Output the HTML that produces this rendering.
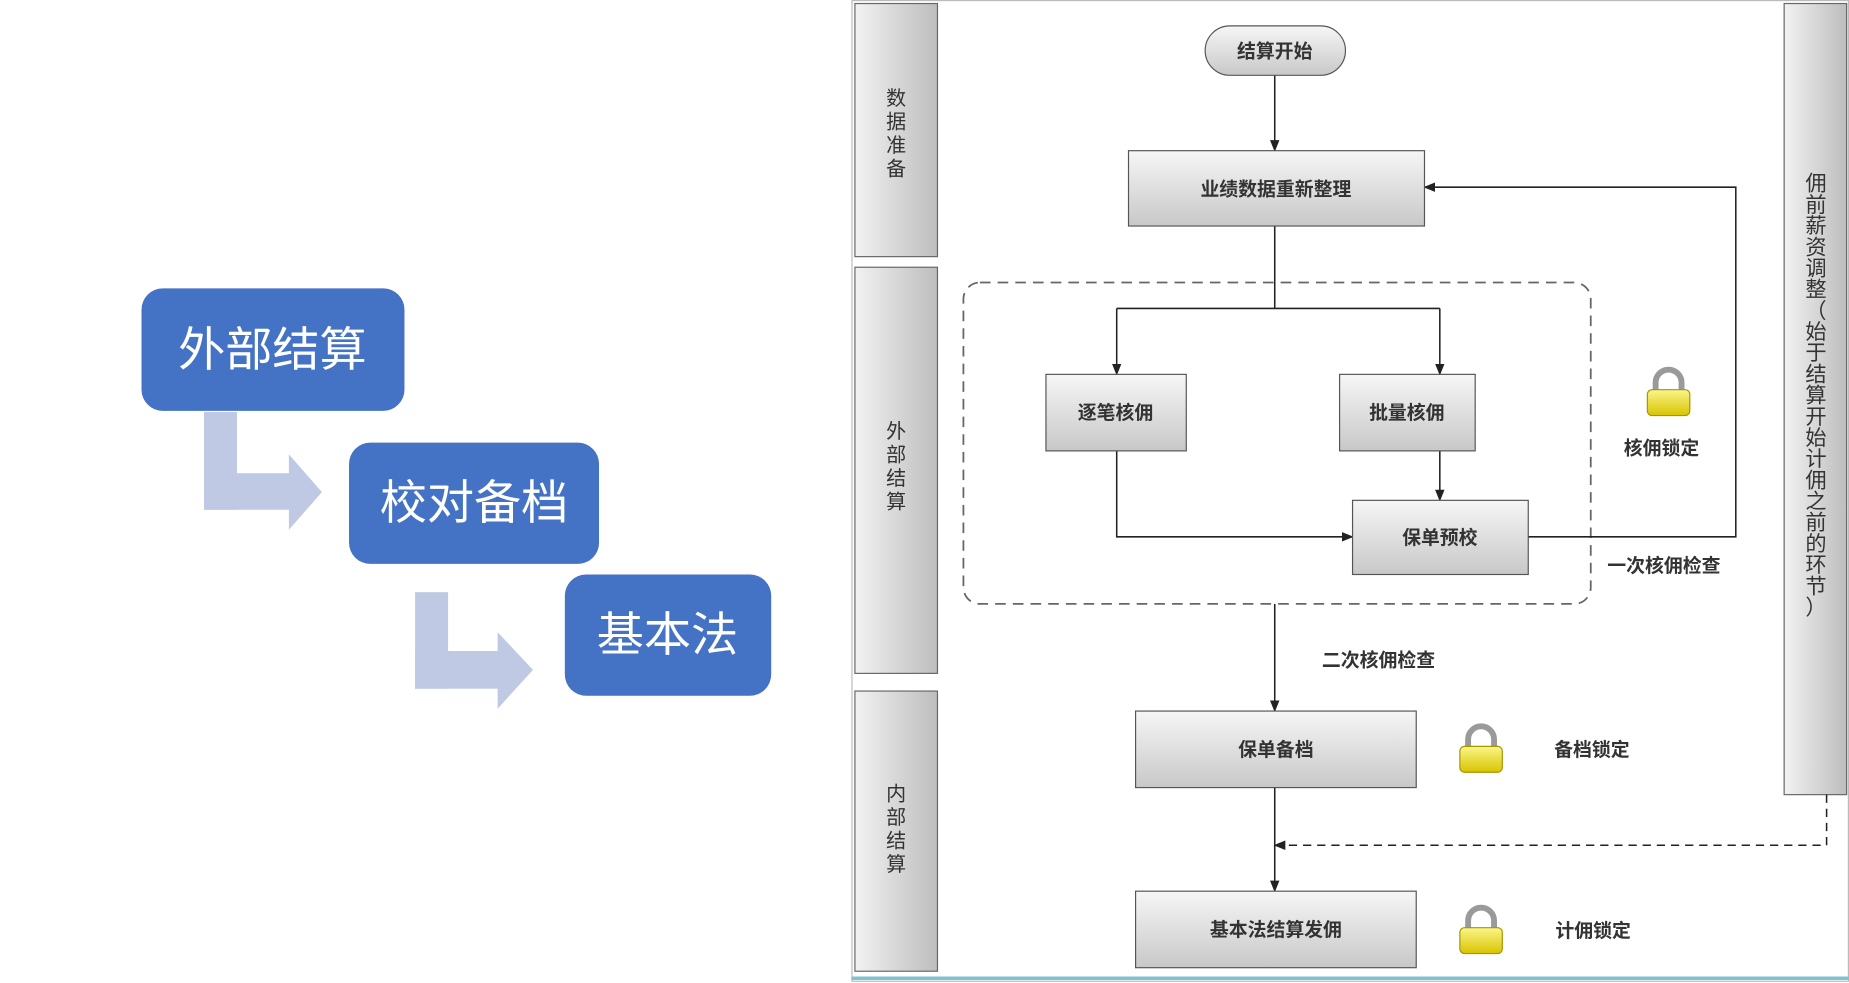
<!DOCTYPE html>
<html><head><meta charset="utf-8"><style>
html,body{margin:0;padding:0;background:#fff;overflow:hidden}
svg{display:block}
text{font-family:"Liberation Sans","Noto Sans CJK SC",sans-serif}
</style></head><body>
<svg width="1849" height="983" viewBox="0 0 1568 835" preserveAspectRatio="none" xmlns="http://www.w3.org/2000/svg">
<defs>
<linearGradient id="bx" x1="0" y1="0" x2="0" y2="1"><stop offset="0" stop-color="#f6f6f6"/><stop offset="1" stop-color="#c8c8c8"/></linearGradient>
<linearGradient id="ln" x1="0" y1="0" x2="1" y2="0"><stop offset="0" stop-color="#f2f2f2"/><stop offset="1" stop-color="#bdbdbd"/></linearGradient>
<linearGradient id="lk" x1="0" y1="0" x2="0" y2="1"><stop offset="0" stop-color="#fbf58a"/><stop offset="1" stop-color="#d8c400"/></linearGradient>
<marker id="a" markerWidth="10" markerHeight="10" refX="9" refY="5" orient="auto" markerUnits="userSpaceOnUse"><path d="M0,1 L10,5 L0,9 z" fill="#222"/></marker>
<g id="lock"><path d="M7,19 V12 A11,11 0 0 1 29,12 V19" fill="none" stroke="#9a9a9a" stroke-width="5"/><rect x="0" y="18" width="36" height="22" rx="4" fill="url(#lk)" stroke="#a69600" stroke-width="1"/></g>
</defs>
<rect x="173" y="350" width="28" height="83" fill="#BFC9E3"/>
<rect x="173" y="402" width="74" height="31" fill="#BFC9E3"/>
<path d="M245,386 L273,418 L245,450 z" fill="#BFC9E3"/>
<rect x="352" y="503" width="28" height="82" fill="#BFC9E3"/>
<rect x="352" y="553" width="72" height="32" fill="#BFC9E3"/>
<path d="M422,537 L452,569 L422,602 z" fill="#BFC9E3"/>
<rect x="120" y="245" width="223" height="104" rx="18" fill="#4472C4"/>
<rect x="296" y="376" width="212" height="103" rx="18" fill="#4472C4"/>
<rect x="479" y="488" width="175" height="103" rx="18" fill="#4472C4"/>
<g fill="#fff" font-size="40" text-anchor="middle">
<text x="231" y="311">外部结算</text><text x="402" y="441">校对备档</text><text x="566" y="553">基本法</text></g>
<rect x="722.5" y="0.5" width="845" height="833" fill="#fff" stroke="#bbb"/>
<line x1="722" y1="831" x2="1568" y2="831" stroke="#7fc3d0" stroke-width="3"/>
<rect x="725" y="3" width="70" height="215" fill="url(#ln)" stroke="#666"/>
<rect x="725" y="227" width="70" height="345" fill="url(#ln)" stroke="#666"/>
<rect x="725" y="587" width="70" height="238" fill="url(#ln)" stroke="#666"/>
<rect x="1513" y="3" width="53" height="672" fill="url(#ln)" stroke="#666"/>
<g font-size="17" fill="#333" text-anchor="middle">
<text x="760" y="89">数</text><text x="760" y="109">据</text><text x="760" y="129">准</text><text x="760" y="149">备</text>
<text x="760" y="372">外</text><text x="760" y="392">部</text><text x="760" y="412">结</text><text x="760" y="432">算</text>
<text x="760" y="680">内</text><text x="760" y="700">部</text><text x="760" y="720">结</text><text x="760" y="740">算</text>
</g>
<g font-size="18" fill="#333" text-anchor="middle">
<text x="1540" y="162">佣</text><text x="1540" y="180">前</text><text x="1540" y="198">薪</text><text x="1540" y="216">资</text><text x="1540" y="234">调</text><text x="1540" y="252">整</text><text x="1540" y="270">（</text><text x="1540" y="288">始</text><text x="1540" y="306">于</text><text x="1540" y="324">结</text><text x="1540" y="342">算</text><text x="1540" y="360">开</text><text x="1540" y="378">始</text><text x="1540" y="396">计</text><text x="1540" y="414">佣</text><text x="1540" y="432">之</text><text x="1540" y="450">前</text><text x="1540" y="468">的</text><text x="1540" y="486">环</text><text x="1540" y="504">节</text><text x="1540" y="522">）</text>
</g>
<rect x="817" y="240" width="532" height="273" rx="14" fill="none" stroke="#666" stroke-width="1.5" stroke-dasharray="9,6"/>
<g stroke="#222" stroke-width="1.3" fill="none">
<line x1="1081" y1="64" x2="1081" y2="128" marker-end="url(#a)"/>
<polyline points="1081,192 1081,262"/>
<polyline points="947,262 1221,262"/>
<line x1="947" y1="262" x2="947" y2="318" marker-end="url(#a)"/>
<line x1="1221" y1="262" x2="1221" y2="318" marker-end="url(#a)"/>
<line x1="1221" y1="383" x2="1221" y2="425" marker-end="url(#a)"/>
<polyline points="947,383 947,456 1147,456" marker-end="url(#a)"/>
<polyline points="1296,456 1472,456 1472,159 1208,159" marker-end="url(#a)"/>
<line x1="1081" y1="513" x2="1081" y2="604" marker-end="url(#a)"/>
<line x1="1081" y1="669" x2="1081" y2="757" marker-end="url(#a)"/>
<polyline points="1549,675 1549,718 1081,718" stroke-dasharray="7,5" marker-end="url(#a)"/>
</g>
<rect x="1022" y="22" width="119" height="42" rx="21" fill="url(#bx)" stroke="#555"/>
<g stroke="#555" fill="url(#bx)">
<rect x="957" y="128" width="251" height="64"/>
<rect x="887" y="318" width="119" height="65"/>
<rect x="1136" y="318" width="115" height="65"/>
<rect x="1147" y="425" width="149" height="63"/>
<rect x="963" y="604" width="238" height="65"/>
<rect x="963" y="757" width="238" height="65"/>
</g>
<g font-size="16" fill="#333" text-anchor="middle" font-weight="bold">
<text x="1081" y="49">结算开始</text>
<text x="1082" y="166">业绩数据重新整理</text>
<text x="946" y="356">逐笔核佣</text>
<text x="1193" y="356">批量核佣</text>
<text x="1221" y="462">保单预校</text>
<text x="1082" y="642">保单备档</text>
<text x="1082" y="795">基本法结算发佣</text>
<text x="1409" y="386">核佣锁定</text>
<text x="1411" y="486">一次核佣检查</text>
<text x="1169" y="566">二次核佣检查</text>
<text x="1350" y="642">备档锁定</text>
<text x="1351" y="796">计佣锁定</text>
</g>
<use href="#lock" x="1397" y="313"/>
<use href="#lock" x="1238" y="616"/>
<use href="#lock" x="1238" y="770"/>
</svg>
</body></html>
